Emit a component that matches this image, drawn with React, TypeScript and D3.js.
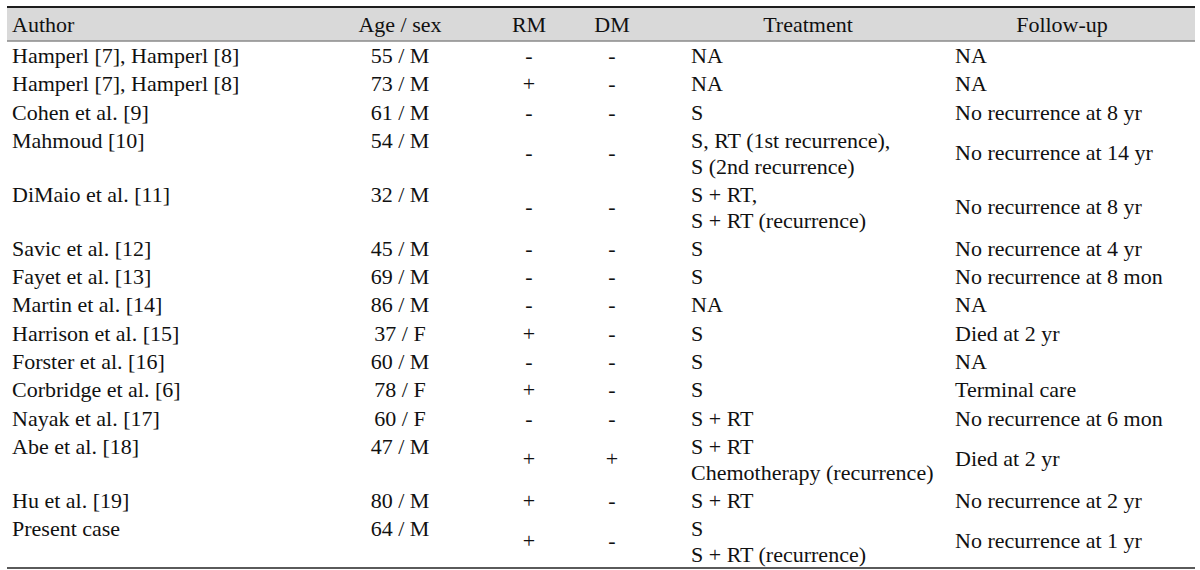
import * as d3 from "d3";
import { useEffect, useRef } from "react";

// Table content
const headers = ["Author", "Age / sex", "RM", "DM", "Treatment", "Follow-up"];

const authors = [
  "Hamperl [7], Hamperl [8]",
  "Hamperl [7], Hamperl [8]",
  "Cohen et al. [9]",
  "Mahmoud [10]",
  "DiMaio et al. [11]",
  "Savic et al. [12]",
  "Fayet et al. [13]",
  "Martin et al. [14]",
  "Harrison et al. [15]",
  "Forster et al. [16]",
  "Corbridge et al. [6]",
  "Nayak et al. [17]",
  "Abe et al. [18]",
  "Hu et al. [19]",
  "Present case",
];

const ageSex = [
  "55 / M", "73 / M", "61 / M", "54 / M", "32 / M", "45 / M", "69 / M", "86 / M",
  "37 / F", "60 / M", "78 / F", "60 / F", "47 / M", "80 / M", "64 / M",
];

const rm = ["-", "+", "-", "-", "-", "-", "-", "-", "+", "-", "+", "-", "+", "+", "+"];
const dm = ["-", "-", "-", "-", "-", "-", "-", "-", "-", "-", "-", "-", "+", "-", "-"];

const treatment = [
  ["NA"],
  ["NA"],
  ["S"],
  ["S, RT (1st recurrence),", "S (2nd recurrence)"],
  ["S + RT,", "S + RT (recurrence)"],
  ["S"],
  ["S"],
  ["NA"],
  ["S"],
  ["S"],
  ["S"],
  ["S + RT"],
  ["S + RT", "Chemotherapy (recurrence)"],
  ["S + RT"],
  ["S", "S + RT (recurrence)"],
];

const followUp = [
  "NA",
  "NA",
  "No recurrence at 8 yr",
  "No recurrence at 14 yr",
  "No recurrence at 8 yr",
  "No recurrence at 4 yr",
  "No recurrence at 8 mon",
  "NA",
  "Died at 2 yr",
  "NA",
  "Terminal care",
  "No recurrence at 6 mon",
  "Died at 2 yr",
  "No recurrence at 2 yr",
  "No recurrence at 1 yr",
];

export default function App() {
  const svgRef = useRef<SVGSVGElement>(null);

  useEffect(() => {
    if (!svgRef.current) return;
    const svg = d3.select(svgRef.current);
    svg.selectAll("*").remove();

    const left = 7;
    const right = 1195;
    const headTop = 8;
    const headBottom = 41;
    const bodyBottom = 568;
    const lineH = 26;
    const font = "'Liberation Serif', 'Times New Roman', Times, serif";
    const fontSize = 22;

    // row heights from line counts, scaled to fill the body
    const lines = treatment.map((t) => t.length);
    const rawH = lines.map((n) => 28.4 + (n - 1) * 25.5);
    const k = (bodyBottom - headBottom) / d3.sum(rawH);
    const heights = rawH.map((h) => h * k);
    const tops = heights.map((_, i) => headBottom + d3.sum(heights.slice(0, i)));

    // column anchors
    const col = {
      author: 12,
      age: 400,
      rm: 529,
      dm: 612,
      treat: 691,
      treatHead: 808,
      follow: 955,
      followHead: 1062,
    };

    const g = svg.append("g");

    // header band and rules
    g.append("rect")
      .attr("x", left)
      .attr("y", headTop)
      .attr("width", right - left)
      .attr("height", headBottom - headTop)
      .attr("fill", "#d9d9d9");
    g.append("line")
      .attr("x1", left).attr("x2", right)
      .attr("y1", 7).attr("y2", 7)
      .attr("stroke", "#1e1e1e").attr("stroke-width", 2);
    g.append("line")
      .attr("x1", left).attr("x2", right)
      .attr("y1", headBottom).attr("y2", headBottom)
      .attr("stroke", "#8a8a8a").attr("stroke-width", 1.5);
    g.append("line")
      .attr("x1", left).attr("x2", right)
      .attr("y1", bodyBottom).attr("y2", bodyBottom)
      .attr("stroke", "#5a5a5a").attr("stroke-width", 2);

    const headX = [col.author, col.age, col.rm, col.dm, col.treatHead, col.followHead];
    const headAnchor = ["start", "middle", "middle", "middle", "middle", "middle"];

    const txt = (x: number, y: number, s: string, anchor = "start") =>
      g.append("text")
        .attr("x", x)
        .attr("y", y)
        .attr("text-anchor", anchor)
        .attr("font-family", font)
        .attr("font-size", fontSize)
        .attr("fill", "#111")
        .text(s);

    headers.forEach((h, i) => txt(headX[i], 32, h, headAnchor[i]));

    authors.forEach((a, i) => {
      const top = tops[i];
      const first = top + 22;
      const mid = top + heights[i] / 2 + 7;
      const yc = lines[i] > 1 ? mid : first;
      txt(col.author, first, a);
      txt(col.age, first, ageSex[i], "middle");
      txt(col.rm, yc, rm[i], "middle");
      txt(col.dm, yc, dm[i], "middle");
      treatment[i].forEach((t, j) => txt(col.treat, first + j * lineH, t));
      txt(col.follow, yc, followUp[i]);
    });
  }, []);

  return (
    <svg
      ref={svgRef}
      width={1200}
      height={570}
      style={{ position: "absolute", left: 0, top: 0, background: "#fff" }}
    />
  );
}
